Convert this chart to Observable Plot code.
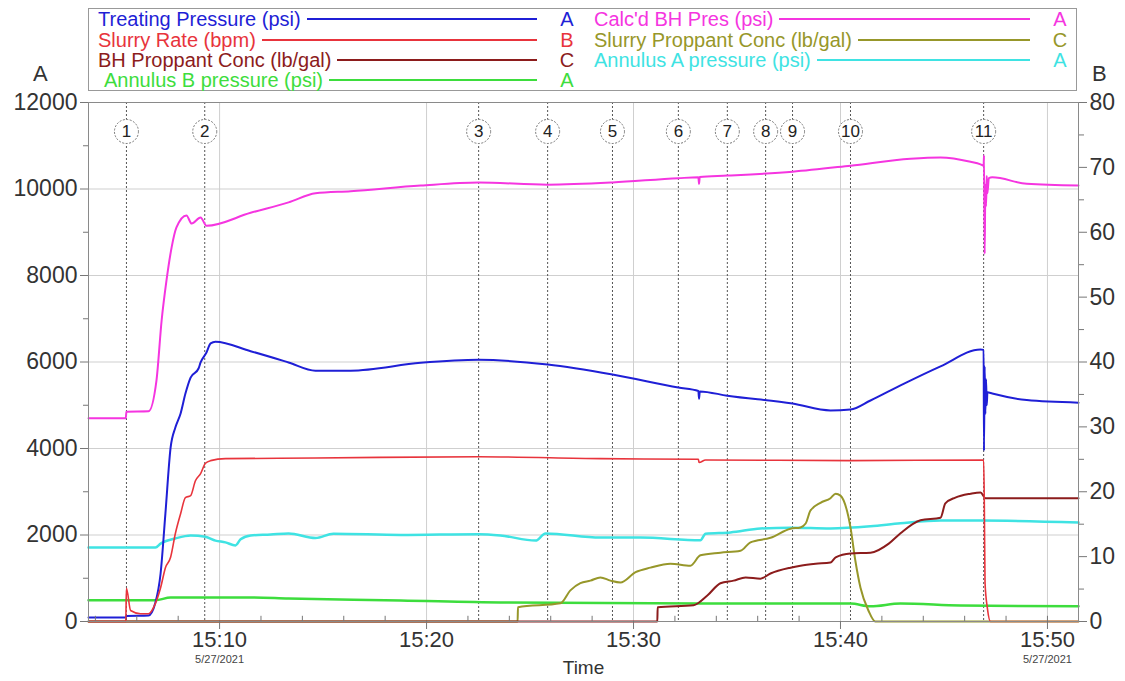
<!DOCTYPE html>
<html>
<head>
<meta charset="utf-8">
<script src="https://cdn.jsdelivr.net/npm/d3@7"></script>
<script src="https://cdn.jsdelivr.net/npm/@observablehq/plot@0.6"></script>
<style>
  body { margin: 0; background: #fff; font-family: "Liberation Sans", Arial, sans-serif; }
  #head { position: relative; width: 1125px; height: 93px; }
  .axlab { position: absolute; font-size: 22px; color: #333; line-height: 22px; }
  #legend { position: absolute; left: 88px; top: 8px; width: 989px; height: 83px;
            border: 1px solid #999; box-sizing: border-box; }
  .item { position: absolute; display: flex; align-items: center; height: 20px;
          font-size: 20px; line-height: 20px; white-space: nowrap; }
  .item .line { flex: 1; height: 0; border-top: 2px solid; margin: 0 22px 0 6px; }
  .item .axis { width: 16px; text-align: center; }
  #chart svg { overflow: visible; }
</style>
</head>
<body>
<div id="head">
  <div class="axlab" style="left:33px;top:63px">A</div>
  <div class="axlab" style="left:1092px;top:63px">B</div>
  <div id="legend"></div>
</div>
<div id="chart"></div>
<script>
// ---- Treatment data, 5/27/2021 (times are clock time, values in channel units) ----
const treatingPressure = [ // psi, axis A
  ["15:03:40", 90], ["15:05:28", 90], ["15:05:30", 130], ["15:06:34", 140], ["15:06:54", 440],
  ["15:07:09", 1110], ["15:07:23", 2500], ["15:07:38", 4020], ["15:07:52", 4490], ["15:08:07", 4810],
  ["15:08:21", 5270], ["15:08:36", 5640], ["15:08:59", 5850], ["15:09:05", 5990], ["15:09:22", 6220],
  ["15:09:34", 6430], ["15:09:48", 6470], ["15:11:30", 6250], ["15:13:20", 5990], ["15:14:38", 5800],
  ["15:16:20", 5800], ["15:19:43", 5980], ["15:22:31", 6050], ["15:25:51", 5940], ["15:28:59", 5710],
  ["15:32:10", 5410], ["15:33:08", 5330], ["15:33:10", 5150], ["15:33:12", 5320], ["15:34:32", 5220],
  ["15:37:41", 5040], ["15:39:31", 4880], ["15:40:29", 4900], ["15:41:27", 5110], ["15:42:54", 5460],
  ["15:44:50", 5900], ["15:46:46", 6290], ["15:46:55", 6280], ["15:46:56", 3950], ["15:46:58", 5900],
  ["15:47:00", 4800], ["15:47:02", 5600], ["15:47:04", 5000], ["15:47:06", 5300], ["15:47:20", 5270],
  ["15:49:00", 5120], ["15:51:30", 5060]
];
const slurryRate = [ // bpm, axis B
  ["15:03:40", 0], ["15:05:28", 0], ["15:05:30", 5.1], ["15:05:42", 1.7], ["15:06:11", 1.2],
  ["15:06:34", 1.2], ["15:06:54", 2.8], ["15:07:09", 5.2], ["15:07:23", 8.3], ["15:07:38", 9.9],
  ["15:07:52", 13.6], ["15:08:07", 16.6], ["15:08:21", 19.1], ["15:08:36", 19.4], ["15:08:50", 21.7],
  ["15:09:05", 22.8], ["15:09:19", 24.4], ["15:09:34", 24.8], ["15:10:17", 25.1], ["15:14:38", 25.2],
  ["15:22:31", 25.4], ["15:28:24", 25.1], ["15:33:08", 25.0], ["15:33:10", 24.5], ["15:33:29", 24.9],
  ["15:40:29", 24.8], ["15:46:55", 24.9], ["15:46:57", 18], ["15:46:59", 6], ["15:47:06", 2],
  ["15:47:15", 0], ["15:51:30", 0]
];
const bhProppantConc = [ // lb/gal, axis C
  ["15:03:40", 0], ["15:31:09", 0], ["15:31:10", 0.22], ["15:32:54", 0.25], ["15:33:34", 0.40],
  ["15:34:12", 0.59], ["15:34:50", 0.63], ["15:35:25", 0.68], ["15:36:08", 0.66], ["15:36:37", 0.74],
  ["15:37:35", 0.83], ["15:38:04", 0.86], ["15:38:48", 0.89], ["15:39:31", 0.91], ["15:39:46", 0.99],
  ["15:40:29", 1.05], ["15:41:27", 1.06], ["15:42:20", 1.20], ["15:42:54", 1.36], ["15:43:52", 1.56],
  ["15:44:50", 1.60], ["15:45:04", 1.82], ["15:45:33", 1.91], ["15:46:17", 1.97], ["15:46:46", 1.99],
  ["15:47:00", 1.90], ["15:51:30", 1.90]
];
const annulusB = [ // psi, axis A
  ["15:03:40", 490], ["15:06:54", 490], ["15:07:38", 555], ["15:11:30", 555], ["15:13:20", 530],
  ["15:18:45", 486], ["15:23:34", 440], ["15:33:14", 416], ["15:40:29", 416], ["15:41:27", 350],
  ["15:42:54", 416], ["15:45:48", 370], ["15:51:30", 350]
];
const calcBhPressure = [ // psi, axis A
  ["15:03:40", 4700], ["15:05:28", 4700], ["15:05:30", 4850], ["15:06:34", 4860], ["15:06:57", 5570],
  ["15:07:12", 6960], ["15:07:26", 7880], ["15:07:41", 8650], ["15:07:55", 9110], ["15:08:24", 9390],
  ["15:08:39", 9200], ["15:09:05", 9340], ["15:09:22", 9150], ["15:11:30", 9450], ["15:13:20", 9690],
  ["15:14:38", 9900], ["15:16:20", 9950], ["15:19:43", 10080], ["15:22:31", 10150], ["15:25:51", 10100],
  ["15:28:59", 10150], ["15:32:10", 10250], ["15:33:08", 10270], ["15:33:10", 10120], ["15:33:12", 10280],
  ["15:34:32", 10310], ["15:37:41", 10400], ["15:40:29", 10540], ["15:43:23", 10700], ["15:44:50", 10730],
  ["15:46:17", 10630], ["15:46:46", 10570], ["15:46:55", 10540], ["15:46:56", 10780], ["15:46:58", 8500],
  ["15:47:00", 10100], ["15:47:02", 9600], ["15:47:04", 10300], ["15:47:06", 9900], ["15:47:10", 10250],
  ["15:47:20", 10270], ["15:49:00", 10120], ["15:51:30", 10080]
];
const slurryProppantConc = [ // lb/gal, axis C
  ["15:03:40", 0], ["15:24:24", 0], ["15:24:25", 0.22], ["15:26:28", 0.28], ["15:26:57", 0.48],
  ["15:27:26", 0.59], ["15:27:55", 0.63], ["15:28:24", 0.68], ["15:28:53", 0.63], ["15:29:22", 0.60],
  ["15:30:06", 0.76], ["15:30:49", 0.83], ["15:31:47", 0.89], ["15:32:45", 0.86], ["15:33:14", 1.02],
  ["15:34:12", 1.06], ["15:35:10", 1.09], ["15:35:39", 1.22], ["15:36:37", 1.29], ["15:37:35", 1.43],
  ["15:38:04", 1.45], ["15:38:19", 1.51], ["15:38:33", 1.71], ["15:39:02", 1.83], ["15:39:31", 1.90],
  ["15:39:46", 1.97], ["15:40:00", 1.94], ["15:40:29", 1.45], ["15:40:43", 0.94], ["15:40:58", 0.52],
  ["15:41:21", 0.17], ["15:41:41", 0], ["15:51:30", 0]
];
const annulusA = [ // psi, axis A
  ["15:03:40", 1710], ["15:06:54", 1710], ["15:07:09", 1800], ["15:07:52", 1920], ["15:08:36", 1990],
  ["15:09:19", 1960], ["15:09:48", 1870], ["15:10:17", 1830], ["15:10:46", 1760], ["15:11:01", 1900],
  ["15:11:30", 1990], ["15:12:28", 2010], ["15:13:20", 2035], ["15:14:38", 1930], ["15:15:30", 2030],
  ["15:18:45", 2000], ["15:22:31", 2020], ["15:23:34", 1990], ["15:25:16", 1870], ["15:25:45", 2035],
  ["15:28:24", 1940], ["15:30:20", 1940], ["15:33:14", 1880], ["15:33:29", 2030], ["15:34:41", 2060],
  ["15:36:08", 2150], ["15:37:35", 2170], ["15:39:31", 2150], ["15:41:27", 2200], ["15:42:54", 2270],
  ["15:44:50", 2335], ["15:46:46", 2335], ["15:51:30", 2290]
];

// Numbered stage events
const eventTimes = ["15:05:30", "15:09:17", "15:22:31", "15:25:51", "15:28:59", "15:32:10",
                    "15:34:32", "15:36:23", "15:37:41", "15:40:29", "15:46:55"];
const eventLabels = ["1", "2", "3", "4", "5", "6", "7", "8", "9", "10", "11"];

// Axis ticks
const timeRange = ["15:03:40", "15:51:30"];
const timeMajor = ["15:10:00", "15:20:00", "15:30:00", "15:40:00", "15:50:00"];
const timeMinor = ["15:04:00", "15:06:00", "15:08:00", "15:12:00", "15:14:00", "15:16:00", "15:18:00",
                   "15:22:00", "15:24:00", "15:26:00", "15:28:00", "15:32:00", "15:34:00", "15:36:00",
                   "15:38:00", "15:42:00", "15:44:00", "15:46:00", "15:48:00", "15:50:00"];
const dateStamped = ["15:10:00", "15:50:00"];
const dateText = "5/27/2021";
const axisAMajor = [0, 2000, 4000, 6000, 8000, 10000, 12000];
const axisAMinor = [1000, 3000, 5000, 7000, 9000, 11000];
const axisBMajor = [0, 10, 20, 30, 40, 50, 60, 70, 80];
const axisBMinor = [5, 15, 25, 35, 45, 55, 65, 75];

// The B (0–80) and C (0–8) channels share the plot area with A (0–12000)
const axisFactor = {A: 1, B: 150, C: 1500};
const markerLevel = 11330;

const t = s => new Date(`2021-05-27T${s}Z`);

const series = [
  {name: "Treating Pressure (psi)", axis: "A", color: "#1f1fd6", width: 2, data: treatingPressure, col: 0, row: 0},
  {name: "Slurry Rate (bpm)", axis: "B", color: "#e8343c", width: 1.6, data: slurryRate, col: 0, row: 1},
  {name: "BH Proppant Conc (lb/gal)", axis: "C", color: "#8c1c1c", width: 2, data: bhProppantConc, col: 0, row: 2},
  {name: "Annulus B pressure (psi)", axis: "A", color: "#3ddd3d", width: 2.5, data: annulusB, col: 0, row: 3},
  {name: "Calc'd BH Pres (psi)", axis: "A", color: "#f535e0", width: 2, data: calcBhPressure, col: 1, row: 0},
  {name: "Slurry Proppant Conc (lb/gal)", axis: "C", color: "#97972a", width: 2, data: slurryProppantConc, col: 1, row: 1},
  {name: "Annulus A pressure (psi)", axis: "A", color: "#3fe3e3", width: 2.5, data: annulusA, col: 1, row: 2}
];

// ---- Legend box ----
const legend = document.getElementById("legend");
const colLeft = [9, 505], colWidth = [477, 474], rowTop = [0, 20.5, 41, 61];
for (const s of series) {
  const item = document.createElement("div");
  item.className = "item";
  const indent = (s.col === 0 && s.row === 3) ? 6 : 0;
  item.style.left = (colLeft[s.col] + indent) + "px";
  item.style.width = (colWidth[s.col] - indent) + "px";
  item.style.top = rowTop[s.row] + "px";
  item.style.color = s.color;
  item.innerHTML = `<span class="name"></span><span class="line"></span><span class="axis"></span>`;
  item.querySelector(".name").textContent = s.name;
  item.querySelector(".line").style.borderTopColor = s.color;
  item.querySelector(".axis").textContent = s.axis;
  legend.appendChild(item);
}

// ---- Chart ----
const drawOrder = [3, 6, 5, 2, 4, 0, 1];
const lineMarks = drawOrder.map(i => {
  const s = series[i];
  return Plot.line(s.data, {
    x: d => t(d[0]),
    y: d => d[1] * axisFactor[s.axis],
    stroke: s.color,
    strokeWidth: s.width,
    curve: "monotone-x"
  });
});

const events = eventTimes.map((time, i) => ({time: t(time), label: eventLabels[i]}));

const chart = Plot.plot({
  width: 1125,
  height: 588,
  marginLeft: 88,
  marginRight: 47,
  marginTop: 9,
  marginBottom: 60,
  style: {fontFamily: "'Liberation Sans', Arial, sans-serif", color: "#333", background: "#fff", overflow: "visible"},
  x: {type: "utc", domain: timeRange.map(t), label: null},
  y: {domain: [0, 12000], label: null},
  marks: [
    Plot.gridY(axisAMajor.filter(d => d > 0), {stroke: "#cfcfcf", strokeOpacity: 1}),
    Plot.gridX(timeMajor.map(t), {stroke: "#cfcfcf", strokeOpacity: 1}),
    Plot.ruleX(events, {x: "time", stroke: "#555", strokeWidth: 1, strokeDasharray: "2,2"}),
    ...lineMarks,
    Plot.dot(events, {x: "time", y: () => markerLevel, r: 12, fill: "#fff", stroke: "#777",
                      strokeDasharray: "2,1.5", strokeWidth: 1}),
    Plot.text(events, {x: "time", y: () => markerLevel, text: "label", fontSize: 17, fill: "#222"}),
    Plot.frame({stroke: "#8a8a8a"}),
    Plot.axisY({ticks: axisAMajor, tickFormat: d => String(d), tickSize: 8, tickPadding: 3, fontSize: 23,
                label: null, stroke: "#777"}),
    Plot.axisY({ticks: axisAMinor, tickSize: 5, tickFormat: () => "", label: null, stroke: "#777"}),
    Plot.axisY({anchor: "right", ticks: axisBMajor.map(v => v * axisFactor.B), tickFormat: v => String(v / axisFactor.B),
                tickSize: 8, tickPadding: 3, fontSize: 23, label: null, stroke: "#777"}),
    Plot.axisY({anchor: "right", ticks: axisBMinor.map(v => v * axisFactor.B), tickSize: 5,
                tickFormat: () => "", label: null, stroke: "#777"}),
    Plot.axisX({ticks: timeMajor.map(t), tickFormat: d3.utcFormat("%H:%M"), tickSize: 8, tickPadding: 2,
                fontSize: 22, label: null, stroke: "#777"}),
    Plot.ruleX(timeMinor.map(t), {y1: 0, y2: 120, stroke: "#777"}),
    Plot.text(dateStamped, {x: d => t(d), frameAnchor: "bottom", dy: 41, text: () => dateText,
                            fontSize: 11, fill: "#444"}),
    Plot.text(["Time"], {frameAnchor: "bottom", dy: 52, text: d => d, fontSize: 19, fill: "#333"})
  ]
});

document.getElementById("chart").appendChild(chart);
</script>
</body>
</html>
